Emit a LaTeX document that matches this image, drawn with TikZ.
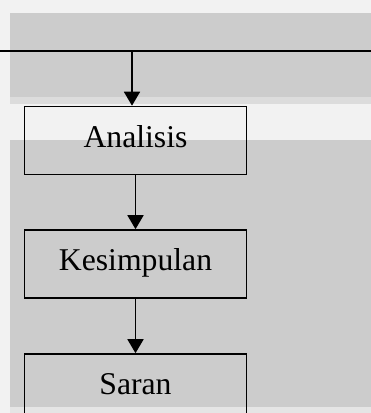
\documentclass[tikz,border=0pt]{standalone}
\usepackage{fontspec}
\setmainfont{Liberation Serif}
\usetikzlibrary{arrows.meta}
\definecolor{kertas}{HTML}{F2F2F2}
\definecolor{pita}{HTML}{CCCCCC}
\definecolor{transisi}{HTML}{DCDCDC}
\tikzset{
  kotak/.style={draw,line width=1.6pt,minimum width=222pt,minimum height=68pt,
                inner sep=0pt,text height=21pt,text depth=8pt},
  panah/.style={-{Triangle[width=16pt,length=14pt]},line width=1.7pt}
}
\begin{document}
\begin{tikzpicture}[x=1pt,y=-1pt,font=\fontsize{31.7}{38}\selectfont]
    % latar belakang
    \useasboundingbox (0,0) rectangle (371,413);
    \clip (0,0) rectangle (371,413);
    \fill[kertas] (0,0) rectangle (371,413);
    \fill[pita] (10,13) rectangle (371,97);
    \fill[transisi] (10,97) rectangle (371,104);
    \fill[pita] (10,140) rectangle (371,407);
    \fill[transisi!60!kertas] (10,407) rectangle (371,413);
    % garis atas
    \draw[line width=1.7pt] (0,51) -- (371,51);
    \coordinate (cabang) at (132,51);
    % kotak tahapan
    \node[kotak] (analisis) at (135.5,140.5) {Analisis};
    \node[kotak] (kesimpulan) at (135.5,264) {Kesimpulan};
    \node[kotak] (saran) at (135.5,388) {Saran};
    \draw[panah] (cabang) -- (cabang |- analisis.north);
    \draw[panah] (analisis) -- (kesimpulan);
    \draw[panah] (kesimpulan) -- (saran);
\end{tikzpicture}
\end{document}
